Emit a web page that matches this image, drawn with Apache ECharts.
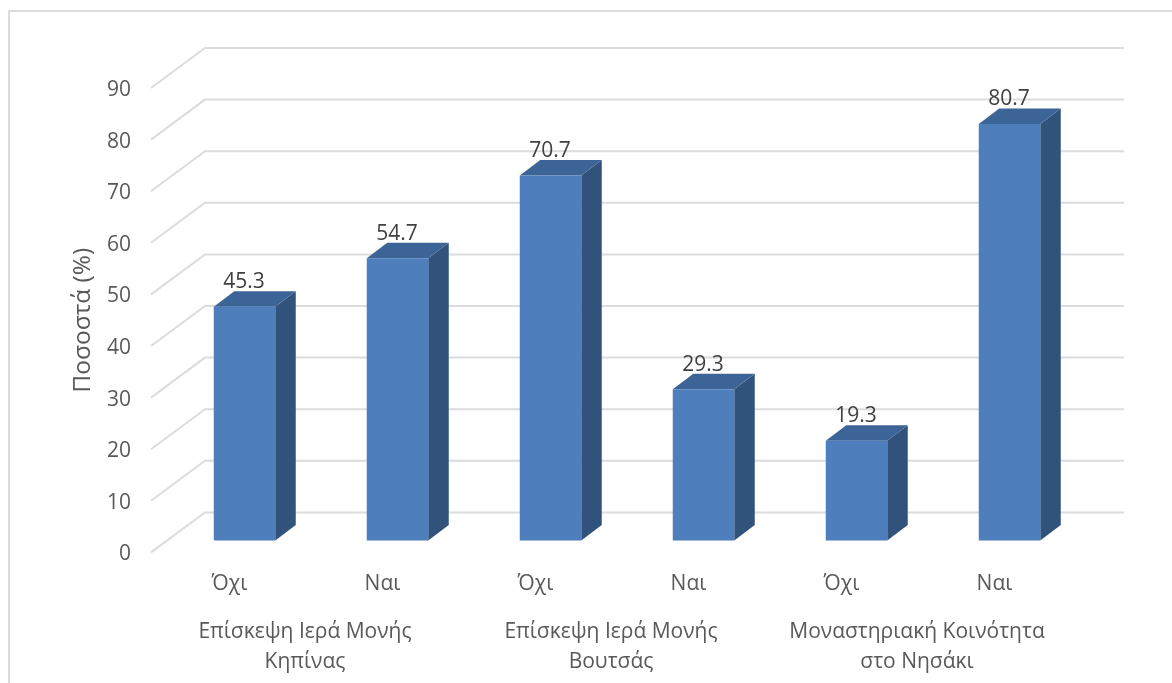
<!DOCTYPE html>
<html><head><meta charset="utf-8">
<style>html,body{margin:0;padding:0;background:#fff}#c{width:1172px;height:683px}</style>
<script src="https://cdn.jsdelivr.net/npm/echarts@6/dist/echarts.min.js"></script>
</head><body><div id="c"></div>
<script>
const categories = ['Όχι','Ναι','Όχι','Ναι','Όχι','Ναι'];
const groups = ['Επίσκεψη Ιερά Μονής\nΚηπίνας','Επίσκεψη Ιερά Μονής\nΒουτσάς','Μοναστηριακή Κοινότητα\nστο Νησάκι'];
const values = [45.3,54.7,70.7,29.3,19.3,80.7];
const yTicks = [0,10,20,30,40,50,60,70,80,90];
const axisTitle = 'Ποσοστά (%)';

const FONT = '"Open Sans", sans-serif';
const chart = echarts.init(document.getElementById('c'), null, {renderer:'canvas'});
chart.setOption({
  animation:false,
  backgroundColor:'#fff',
  grid:{left:152,top:88,width:918,height:464.4,containLabel:false},
  graphic:[{type:'polyline',silent:true,z:0,shape:{points:[[9,683],[9,11],[1172,11]]},style:{stroke:'#dcdcdc',lineWidth:2,fill:null}}],
  xAxis:[
    {type:'category',data:categories,position:'bottom',
     axisLine:{show:false},axisTick:{show:false},splitLine:{show:false},
     axisLabel:{interval:0,margin:21,padding:[0,0,0,2],fontFamily:FONT,fontSize:21,color:'#595959'}},
    {type:'category',data:groups,position:'bottom',offset:0,
     axisLine:{show:false},axisTick:{show:false},splitLine:{show:false},
     axisLabel:{interval:0,margin:65,fontFamily:FONT,fontSize:21,lineHeight:29.5,color:'#595959'}}
  ],
  yAxis:{type:'value',min:0,max:90,interval:10,
    name:axisTitle,nameLocation:'middle',nameGap:56,nameRotate:90,
    nameTextStyle:{fontFamily:FONT,fontSize:24.5,color:'#595959'},
    axisLine:{show:false},axisTick:{show:false},splitLine:{show:false},
    axisLabel:{margin:21,verticalAlign:'top',lineHeight:4,fontFamily:FONT,fontSize:21,color:'#595959'}},
  series:[
    {type:'custom',z:1,silent:true,coordinateSystem:'cartesian2d',clip:false,
     data:yTicks.map(v=>[0,v]),
     renderItem(params,api){
       const p=api.coord([0,api.value(1)]);
       const cs=params.coordSys, y=p[1], x0=cs.x;
       return {type:'polyline',shape:{points:[[x0-1,y],[x0+53,y-40],[x0+cs.width+54,y-40]]},
         style:{stroke:'#dcdcdc',lineWidth:2,fill:null}};
     }},
    {type:'custom',z:2,silent:true,coordinateSystem:'cartesian2d',clip:false,
     data:values.map((v,i)=>[i,v]),
     renderItem(params,api){
       const base=api.coord([api.value(0),0]), top=api.coord([api.value(0),api.value(1)]);
       const w=61.5, dx=20.5, dy=15.5, ox=16, oy=-12;
       const l=base[0]+ox-w/2, r=l+w, b=base[1]+oy, t=top[1]+oy;
       return {type:'group',children:[
         {type:'polygon',shape:{points:[[r,b],[r+dx,b-dy],[r+dx,t-dy],[r,t]]},style:{fill:'#31527B'}},
         {type:'polygon',shape:{points:[[l,t],[l+dx,t-dy],[r+dx,t-dy],[r,t]]},style:{fill:'#3C6497'}},
         {type:'rect',shape:{x:l,y:t,width:w,height:b-t},style:{fill:'#4E7FBC'}},
         {type:'text',style:{text:api.value(1).toFixed(1),x:(l+r)/2-0.5,y:t-24.5,align:'center',verticalAlign:'middle',
           fontFamily:FONT,fontSize:21,fill:'#404040'}}
       ]};
     }}
  ]
});
</script></body></html>
